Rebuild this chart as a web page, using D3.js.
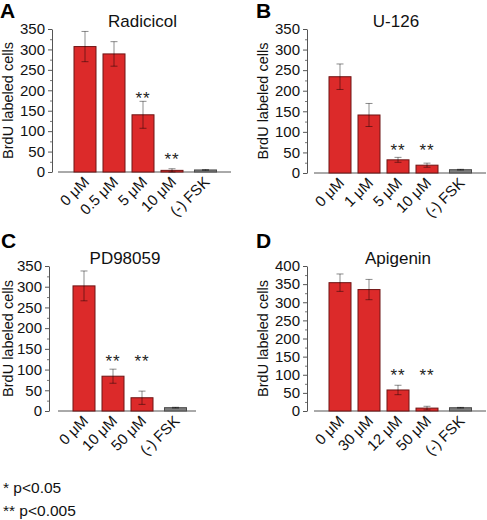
<!DOCTYPE html>
<html>
<head>
<meta charset="utf-8">
<script src="https://cdn.jsdelivr.net/npm/d3@7"></script>
<style>
  html, body { margin: 0; padding: 0; background: #fff; }
  svg { display: block; font-family: "Liberation Sans", Arial, sans-serif; }
</style>
</head>
<body>
<svg id="chart" width="487" height="520"></svg>
<script>
// ---------- DATA ----------
const titles = ["Radicicol", "U-126", "PD98059", "Apigenin"];
const panelLetters = ["A", "B", "C", "D"];
const yLabel = "BrdU labeled cells";

const catsA = ["0 \u03BCM", "0.5 \u03BCM", "5 \u03BCM", "10 \u03BCM", "(-) FSK"];
const valsA = [307, 289, 140, 4, 5];
const errsA = [37, 30, 33, 4, 1];
const starsA = ["", "", "**", "**", ""];
const starAtA = [null, null, 169, 20, null];

const catsB = ["0 \u03BCM", "1 \u03BCM", "5 \u03BCM", "10 \u03BCM", "(-) FSK"];
const valsB = [234, 141, 32, 19, 8];
const errsB = [31, 28, 6, 5, 1];
const starsB = ["", "", "**", "**", ""];
const starAtB = [null, null, 44, 44, null];

const catsC = ["0 \u03BCM", "10 \u03BCM", "50 \u03BCM", "(-) FSK"];
const valsC = [302, 84, 32, 8];
const errsC = [36, 17, 16, 1];
const starsC = ["", "**", "**", ""];
const starAtC = [null, 109, 109, null];

const catsD = ["0 \u03BCM", "30 \u03BCM", "12 \u03BCM", "50 \u03BCM", "(-) FSK"];
const valsD = [354, 335, 58, 8, 9];
const errsD = [24, 28, 13, 5, 1];
const starsD = ["", "", "**", "**", ""];
const starAtD = [null, null, 86, 86, null];

const yMaxABC = 350;
const yMaxD = 400;
const yMajorStep = 50;
const yMinorStep = 25;

const footnotes = ["* p<0.05", "** p<0.005"];

// ---------- LAYOUT ----------
const svg = d3.select("#chart");
const panels = [
  { cats: catsA, vals: valsA, errs: errsA, stars: starsA, starAt: starAtA, yMax: yMaxABC,
    ox: 52, top: 29, bottom: 172, xStart: 58, xEnd: 231, c0: 85,
    title: { x: 142.5, y: 27 }, letter: { x: 0, y: 18 }, ylab: { x: 13 } },
  { cats: catsB, vals: valsB, errs: errsB, stars: starsB, starAt: starAtB, yMax: yMaxABC,
    ox: 307, top: 29, bottom: 173, xStart: 314, xEnd: 486, c0: 340,
    title: { x: 396, y: 27 }, letter: { x: 256, y: 18 }, ylab: { x: 268 } },
  { cats: catsC, vals: valsC, errs: errsC, stars: starsC, starAt: starAtC, yMax: yMaxABC,
    ox: 49, top: 266, bottom: 411, xStart: 58, xEnd: 196, c0: 84,
    title: { x: 125, y: 264 }, letter: { x: 1, y: 248 }, ylab: { x: 13 } },
  { cats: catsD, vals: valsD, errs: errsD, stars: starsD, starAt: starAtD, yMax: yMaxD,
    ox: 307, top: 266, bottom: 411, xStart: 314, xEnd: 486, c0: 340,
    title: { x: 398, y: 264 }, letter: { x: 256, y: 248 }, ylab: { x: 268 } }
];

const step = 29, barW = 22, fskGap = 0.155;

panels.forEach((p, pi) => {
  const g = svg.append("g");
  const y = d3.scaleLinear().domain([0, p.yMax]).range([p.bottom, p.top]);
  const n = p.cats.length;
  const pos = p.cats.map((c, i) => i === n - 1 ? i + fskGap : i);
  const x = d3.scaleLinear().domain([0, 1]).range([p.c0, p.c0 + step]);

  // y axis
  const majors = d3.range(0, p.yMax + 1, yMajorStep);
  const minors = d3.range(0, p.yMax + 1, yMinorStep).filter(v => v % yMajorStep !== 0);
  const ax = g.append("g").attr("transform", `translate(${p.ox},0)`)
    .call(d3.axisLeft(y).tickValues(majors).tickSize(4).tickPadding(3).tickSizeOuter(0));
  ax.select(".domain").attr("stroke", "#555");
  ax.selectAll(".tick line").attr("stroke", "#555");
  ax.selectAll(".tick text").attr("font-size", 15).attr("fill", "#111")
    .attr("font-family", "Liberation Sans, Arial, sans-serif");
  const axm = g.append("g").attr("transform", `translate(${p.ox},0)`)
    .call(d3.axisLeft(y).tickValues(minors).tickSize(2).tickFormat(""));
  axm.select(".domain").remove();
  axm.selectAll(".tick line").attr("stroke", "#777");

  // x baseline
  g.append("line").attr("x1", p.xStart).attr("x2", p.xEnd)
    .attr("y1", y(0)).attr("y2", y(0)).attr("stroke", "#555").attr("stroke-width", 1);

  // bars
  p.vals.forEach((v, i) => {
    const cx = x(pos[i]);
    const isCtrl = i === n - 1;
    g.append("rect")
      .attr("x", cx - barW / 2).attr("width", barW)
      .attr("y", y(v)).attr("height", y(0) - y(v))
      .attr("fill", isCtrl ? "#7d7d7d" : "#dc2a2a")
      .attr("stroke", isCtrl ? "#4a4a4a" : "#6e1414").attr("stroke-width", 1);
    // error bar
    const e = p.errs[i];
    const eg = g.append("g").attr("stroke", "#000").attr("stroke-opacity", 0.45).attr("stroke-width", 1);
    eg.append("line").attr("x1", cx).attr("x2", cx).attr("y1", y(v - e)).attr("y2", y(v + e));
    eg.append("line").attr("x1", cx - 3.5).attr("x2", cx + 3.5).attr("y1", y(v + e)).attr("y2", y(v + e));
    eg.append("line").attr("x1", cx - 3.5).attr("x2", cx + 3.5).attr("y1", y(v - e)).attr("y2", y(v - e));
    // stars
    if (p.stars[i]) {
      g.append("text").attr("x", cx).attr("y", y(p.starAt[i]) + 1)
        .attr("text-anchor", "middle").attr("font-size", 17).attr("letter-spacing", 1)
        .attr("fill", "#222").text(p.stars[i]);
    }
    // category label
    g.append("text")
      .attr("transform", `translate(${cx + 5},${y(0) + 11}) rotate(-45)`)
      .attr("text-anchor", "end").attr("font-size", 15).attr("fill", "#111")
      .text(p.cats[i]);
  });

  // title
  g.append("text").attr("x", p.title.x).attr("y", p.title.y)
    .attr("text-anchor", "middle").attr("font-size", 17).attr("fill", "#111").text(titles[pi]);
  // panel letter
  g.append("text").attr("x", p.letter.x).attr("y", p.letter.y)
    .attr("font-size", 21).attr("font-weight", "bold").attr("fill", "#000").text(panelLetters[pi]);
  // y label
  g.append("text")
    .attr("transform", `translate(${p.ylab.x},${(p.top + p.bottom) / 2}) rotate(-90)`)
    .attr("text-anchor", "middle").attr("font-size", 14.5).attr("fill", "#111").text(yLabel);
});

// footnotes
footnotes.forEach((t, i) => {
  svg.append("text").attr("x", 3).attr("y", 493 + i * 23)
    .attr("font-size", 15.5).attr("fill", "#111").text(t);
});
</script>
</body>
</html>
